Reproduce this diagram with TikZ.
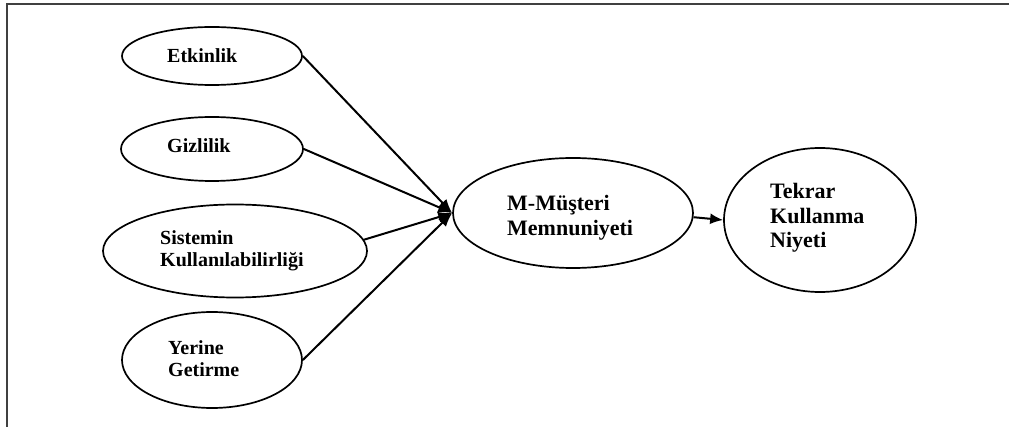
\documentclass[tikz,border=0pt]{standalone}
\usepackage{fontspec}
\setmainfont{Liberation Serif}
\usetikzlibrary{shapes.geometric,arrows.meta}
\tikzset{
  oval/.style={draw, ellipse, line width=1.7pt, inner sep=0pt},
  lbl/.style={anchor=base west, inner sep=0pt, font=\fontsize{20}{22}\selectfont\bfseries},
  lblbig/.style={anchor=base west, inner sep=0pt, font=\fontsize{22}{24.5}\selectfont\bfseries},
  conn/.style={line width=2pt, -{Latex[length=14pt,width=11pt]}},
  frame/.style={line width=1.8pt, black!75}
}
\begin{document}
\begin{tikzpicture}[x=1pt,y=-1pt]
\useasboundingbox (0,0) rectangle (1009,427);
\draw[frame] (7,427) -- (7,4) -- (1009,4);
% ellipses
\node[oval, minimum width=180pt, minimum height=58pt] (etk) at (212,56) {};
\node[oval, minimum width=182pt, minimum height=64pt] (giz) at (212,149) {};
\node[oval, minimum width=264pt, minimum height=93pt] (sis) at (235,251) {};
\node[oval, minimum width=180pt, minimum height=96pt] (yer) at (212,360) {};
\node[oval, minimum width=240pt, minimum height=110pt] (mm) at (573,213) {};
\node[oval, minimum width=192pt, minimum height=144pt] (tk) at (820,220) {};
% labels
\node[lbl] (etkt) at (167,63) {Etkinlik};
\node[lbl] (gizt) at (167,153) {Gizlilik};
\node[lbl] (sist) at (160,245) {\begin{tabular}[t]{@{}l@{}}Sistemin\\Kullanılabilirliği\end{tabular}};
\node[lbl] (yert) at (168,355) {\begin{tabular}[t]{@{}l@{}}Yerine\\Getirme\end{tabular}};
\node[lblbig] (mmt) at (507,211) {\begin{tabular}[t]{@{}l@{}}M-Müşteri\\Memnuniyeti\end{tabular}};
\node[lblbig] (tkt) at (770,199) {\begin{tabular}[t]{@{}l@{}}Tekrar\\Kullanma\\Niyeti\end{tabular}};
% connectors
\draw[conn] (etk.east) -- (mm.west);
\draw[conn] (giz.east) -- (mm.west);
\draw[conn] (sis.5) -- (mm.west);
\draw[conn] (yer.east) -- (mm.west);
\draw[line width=2pt, -{Latex[length=13pt,width=11pt]}] (mm.-2) -- (tk.west);
\end{tikzpicture}
\end{document}
